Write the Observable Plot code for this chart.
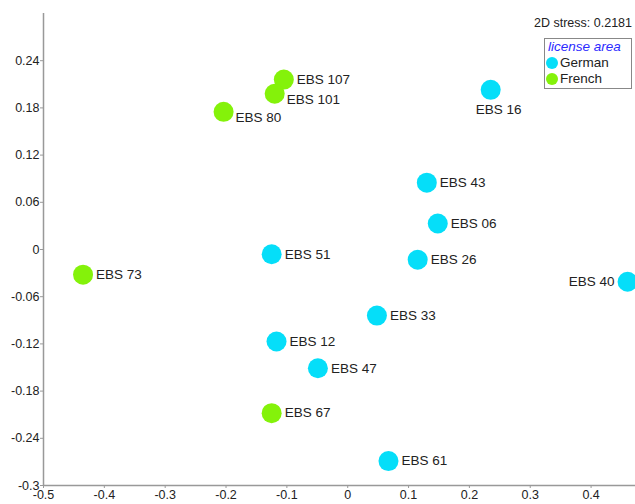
<!DOCTYPE html>
<html>
<head>
<meta charset="utf-8">
<script src="https://cdn.jsdelivr.net/npm/d3@7"></script>
<script src="https://cdn.jsdelivr.net/npm/@observablehq/plot@0.6"></script>
<style>
  body { margin: 0; background: #fff; }
  #wrap { position: relative; width: 635px; height: 504px; font-family: Arial, "Liberation Sans", sans-serif; }
  #stress { position: absolute; right: 3px; top: 16px; font-size: 12.5px; color: #222; }
  #legend { position: absolute; left: 544px; top: 38px; width: 88px; height: 51px; border: 1px solid #888; background: #fff; font-size: 13.5px; color: #222; box-sizing: border-box; }
  #legend .title { color: #2b2bff; font-style: italic; padding-left: 3px; line-height: 16px; }
  #legend .row { display: flex; align-items: center; line-height: 16px; padding-left: 1px; }
  #legend .dot { width: 12px; height: 12px; border-radius: 50%; margin-right: 2px; display: inline-block; }
</style>
</head>
<body>
<div id="wrap">
  <div id="chart"></div>
  <div id="stress"></div>
  <div id="legend"></div>
</div>
<script>
const labels = ["EBS 107","EBS 101","EBS 80","EBS 16","EBS 43","EBS 06","EBS 26","EBS 51","EBS 33","EBS 12","EBS 47","EBS 73","EBS 67","EBS 61","EBS 40"];
const xs = [-0.105,-0.120,-0.204,0.235,0.130,0.148,0.115,-0.125,0.048,-0.117,-0.049,-0.435,-0.125,0.067,0.460];
const ys = [0.216,0.198,0.175,0.203,0.085,0.033,-0.013,-0.006,-0.084,-0.117,-0.151,-0.032,-0.208,-0.269,-0.041];
const areas = ["French","French","French","German","German","German","German","German","German","German","German","French","French","German","German"];
const labelPos = ["right","right-low","right-low","below","right","right","right","right","right","right","right","right","right","right","left"];
const groups = ["German","French"];
const groupColors = ["#05def9","#84f20a"];
const xTicks = [-0.5,-0.4,-0.3,-0.2,-0.1,0,0.1,0.2,0.3,0.4];
const yTicks = [-0.3,-0.24,-0.18,-0.12,-0.06,0,0.06,0.12,0.18,0.24];
const stressText = "2D stress: 0.2181";
const legendTitle = "license area";

const data = labels.map((l, i) => ({label: l, x: xs[i], y: ys[i], area: areas[i], pos: labelPos[i]}));
const fmt = d => String(+d.toFixed(2));
const txt = {x: "x", y: "y", text: "label", fontSize: 13.5, fill: "#222"};

const chart = Plot.plot({
  width: 635,
  height: 504,
  marginLeft: 43,
  marginRight: 0,
  marginTop: 13,
  marginBottom: 19,
  style: {fontFamily: "Arial, 'Liberation Sans', sans-serif", fontSize: "12px", color: "#222", background: "#fff"},
  x: {domain: [-0.5, 0.473], label: null},
  y: {domain: [-0.3, 0.3], label: null},
  color: {domain: groups, range: groupColors},
  marks: [
    Plot.ruleY([-0.3], {stroke: "#999", strokeWidth: 1.5}),
    Plot.ruleX([-0.5], {stroke: "#999", strokeWidth: 1.5}),
    Plot.axisX({ticks: xTicks, tickFormat: fmt, tickSize: 3, tickPadding: 2, stroke: "#999", fill: "#222", fontSize: 12.5, label: null}),
    Plot.axisY({ticks: yTicks, tickFormat: fmt, tickSize: 3, tickPadding: 1, stroke: "#999", fill: "#222", fontSize: 12.5, label: null}),
    Plot.dot(data, {x: "x", y: "y", r: 10, fill: "area", stroke: null}),
    Plot.text(data.filter(d => d.pos === "right"), {...txt, dx: 13, textAnchor: "start"}),
    Plot.text(data.filter(d => d.pos === "right-low"), {...txt, dx: 12, dy: 6, textAnchor: "start"}),
    Plot.text(data.filter(d => d.pos === "left"), {...txt, dx: -13, textAnchor: "end"}),
    Plot.text(data.filter(d => d.pos === "below"), {...txt, dx: 8, dy: 20, textAnchor: "middle"})
  ]
});
document.getElementById("chart").appendChild(chart);
document.getElementById("stress").textContent = stressText;
const leg = document.getElementById("legend");
const t = document.createElement("div"); t.className = "title"; t.textContent = legendTitle; leg.appendChild(t);
groups.forEach((g, i) => {
  const r = document.createElement("div"); r.className = "row";
  const d = document.createElement("span"); d.className = "dot"; d.style.background = groupColors[i];
  r.appendChild(d); r.appendChild(document.createTextNode(g)); leg.appendChild(r);
});
</script>
</body>
</html>
